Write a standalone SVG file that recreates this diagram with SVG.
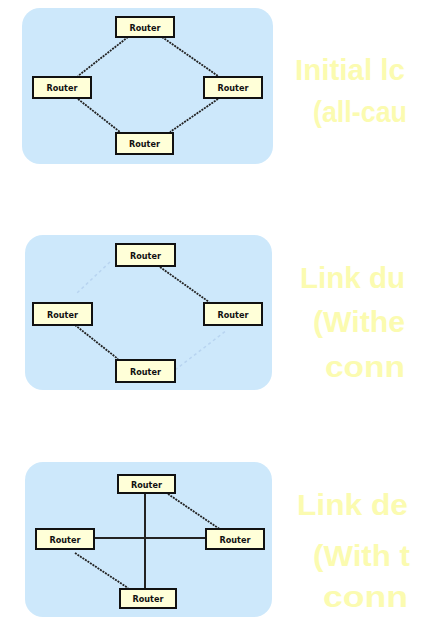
<svg xmlns="http://www.w3.org/2000/svg" width="423" height="623" viewBox="0 0 423 623">
<style>
.panel{fill:#cde8fb;}
.rb{fill:#ffffd8;stroke:#111;stroke-width:2;}
.rt{font-family:"DejaVu Sans Condensed","DejaVu Sans",sans-serif;font-size:9px;font-weight:bold;fill:#111;text-anchor:middle;}
.link{stroke:#222;stroke-width:1.8;stroke-dasharray:2 1;fill:none;}
.solid{stroke:#222;stroke-width:2;fill:none;}
.fail{stroke:#b8d4f0;stroke-width:1.5;stroke-dasharray:3 3;fill:none;}
.cap{font-family:"Liberation Sans",Arial,sans-serif;font-size:30px;font-weight:bold;fill:#fbfbb0;}
</style>
<rect class="panel" x="22" y="8" width="251" height="156" rx="18"/>
<rect class="panel" x="25" y="235" width="247" height="155" rx="18"/>
<rect class="panel" x="25" y="462" width="247" height="155" rx="18"/>
<g id="connectors">
<line class="link" x1="128" y1="37" x2="78" y2="76"/>
<line class="link" x1="162" y1="37" x2="218" y2="76"/>
<line class="link" x1="78" y1="99" x2="120" y2="132"/>
<line class="link" x1="218" y1="99" x2="170" y2="132"/>
<line class="fail" x1="110" y1="262" x2="77" y2="293"/>
<line class="fail" x1="175" y1="370" x2="227" y2="330"/>
<line class="link" x1="160" y1="267" x2="209" y2="302"/>
<line class="link" x1="75" y1="325" x2="118" y2="359"/>
<line class="solid" x1="145" y1="493" x2="145" y2="588"/>
<line class="solid" x1="94" y1="538" x2="206" y2="538"/>
<line class="link" x1="168" y1="494" x2="224" y2="532"/>
<line class="link" x1="75" y1="553" x2="128" y2="588"/>
</g>
<g id="p1-top"><rect class="rb" x="116" y="17" width="58" height="20"/><text class="rt" x="145" y="30.5">Router</text></g>
<g id="p1-left"><rect class="rb" x="33" y="77" width="58" height="21"/><text class="rt" x="62" y="91">Router</text></g>
<g id="p1-right"><rect class="rb" x="204" y="77" width="58" height="21"/><text class="rt" x="233" y="91">Router</text></g>
<g id="p1-bottom"><rect class="rb" x="116" y="133" width="57" height="21"/><text class="rt" x="144.5" y="147">Router</text></g>
<g id="p2-top"><rect class="rb" x="116" y="244" width="59" height="22"/><text class="rt" x="145.5" y="258.5">Router</text></g>
<g id="p2-left"><rect class="rb" x="33" y="303" width="59" height="22"/><text class="rt" x="62.5" y="317.5">Router</text></g>
<g id="p2-right"><rect class="rb" x="204" y="303" width="58" height="22"/><text class="rt" x="233" y="317.5">Router</text></g>
<g id="p2-bottom"><rect class="rb" x="116" y="360" width="59" height="22"/><text class="rt" x="145.5" y="374.5">Router</text></g>
<g id="p3-top"><rect class="rb" x="118" y="475" width="57" height="18"/><text class="rt" x="146.5" y="487.5">Router</text></g>
<g id="p3-left"><rect class="rb" x="36" y="529" width="58" height="20"/><text class="rt" x="65" y="542.5">Router</text></g>
<g id="p3-right"><rect class="rb" x="206" y="529" width="58" height="20"/><text class="rt" x="235" y="542.5">Router</text></g>
<g id="p3-bottom"><rect class="rb" x="120" y="589" width="56" height="19"/><text class="rt" x="148" y="602">Router</text></g>
<g id="captions">
<text class="cap" x="295" y="80" textLength="110" lengthAdjust="spacingAndGlyphs">Initial lc</text>
<text class="cap" x="313" y="122" textLength="94" lengthAdjust="spacingAndGlyphs">(all-cau</text>
<text class="cap" x="300" y="288" textLength="105" lengthAdjust="spacingAndGlyphs">Link du</text>
<text class="cap" x="313" y="332" textLength="92" lengthAdjust="spacingAndGlyphs">(Withe</text>
<text class="cap" x="325" y="377" textLength="80" lengthAdjust="spacingAndGlyphs">conn</text>
<text class="cap" x="297" y="515" textLength="111" lengthAdjust="spacingAndGlyphs">Link de</text>
<text class="cap" x="313" y="566" textLength="97" lengthAdjust="spacingAndGlyphs">(With t</text>
<text class="cap" x="323" y="607" textLength="85" lengthAdjust="spacingAndGlyphs">conn</text>
</g>
</svg>
